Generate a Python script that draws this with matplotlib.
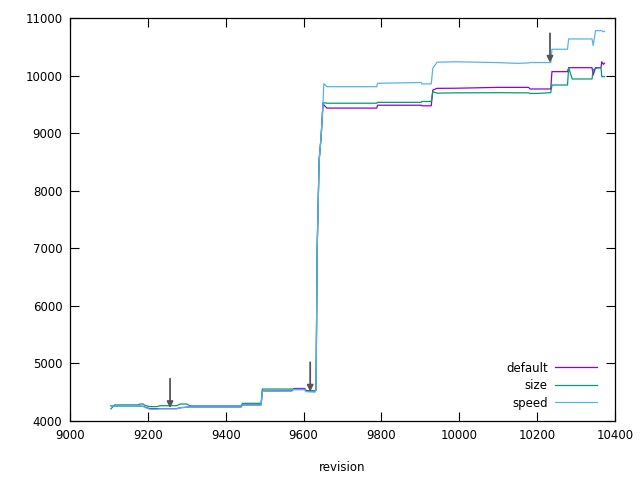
import matplotlib
matplotlib.use("Agg")
import matplotlib.pyplot as plt

revisions = [9105, 9115, 9175, 9180, 9188, 9193, 9205, 9223, 9231, 9274, 9283, 9300, 9308, 9312,
             9440, 9443, 9491, 9494, 9570, 9575, 9603, 9606, 9629, 9632, 9635, 9640, 9645, 9650,
             9652, 9660, 9788, 9790, 9902, 9904, 9928, 9932, 9943, 9990, 10100, 10150, 10178,
             10182, 10200, 10235, 10238, 10278, 10281, 10290, 10341, 10344, 10350, 10360, 10364,
             10366, 10370, 10373]

default = [4265, 4255, 4255, 4258, 4255, 4240, 4215, 4215, 4215, 4215, 4230, 4240, 4245, 4245,
           4245, 4280, 4280, 4520, 4525, 4565, 4565, 4530, 4520, 4540, 7020, 8530, 8930, 9525,
           9490, 9435, 9435, 9485, 9485, 9475, 9475, 9749, 9778, 9780, 9795, 9795, 9795,
           9767, 9767, 9767, 10068, 10068, 10137, 10137, 10137, 10010, 10137, 10137, 10137,
           10241, 10195, 10215]

size = [4210, 4280, 4280, 4295, 4295, 4270, 4250, 4250, 4266, 4266, 4295, 4295, 4265, 4262,
        4262, 4307, 4307, 4555, 4555, 4545, 4545, 4520, 4520, 4540, 7020, 8530, 8930, 9525,
        9530, 9520, 9520, 9535, 9535, 9550, 9550, 9720, 9695, 9700, 9703, 9700, 9700,
        9690, 9690, 9703, 9836, 9836, 10137, 9941, 9941, 10100, 10125, 10137, 10137,
        9981, 9981, 9981]

speed = [4265, 4255, 4255, 4258, 4255, 4235, 4205, 4205, 4212, 4212, 4230, 4240, 4243, 4243,
         4243, 4278, 4278, 4515, 4520, 4550, 4550, 4510, 4500, 4540, 7020, 8530, 8930, 9525,
         9860, 9807, 9807, 9866, 9880, 9855, 9855, 10128, 10232, 10240, 10225, 10212, 10220,
         10226, 10226, 10226, 10457, 10457, 10636, 10636, 10636, 10520, 10780, 10780, 10780,
         10780, 10760, 10770]

series_names = ["default", "size", "speed"]
series_colors = ["#9400d3", "#009e73", "#56b4e9"]

arrow_revs = [9257, 9617, 10233]
arrow_vals = [4225, 4510, 10224]
arrow_len = 510

xticks = [9000, 9200, 9400, 9600, 9800, 10000, 10200, 10400]
yticks = [4000, 5000, 6000, 7000, 8000, 9000, 10000, 11000]

plt.rcParams['font.family'] = ['DejaVu Sans']
fig = plt.figure(figsize=(6.4, 4.8), dpi=100)
ax = fig.add_axes([70/640, 1 - 421/480, 545/640, 403/480])

for name, vals, col in zip(series_names, [default, size, speed], series_colors):
    ax.plot(revisions, vals, color=col, lw=0.9, label=name)

for r, v in zip(arrow_revs, arrow_vals):
    ax.annotate("", xy=(r, v), xytext=(r, v + arrow_len),
                arrowprops=dict(arrowstyle="-|>", color="#555555", lw=1.3,
                                mutation_scale=9, shrinkA=0, shrinkB=0))

ax.set_xlim(9000, 10400)
ax.set_ylim(4000, 11000)
ax.set_xticks(xticks)
ax.set_yticks(yticks)
ax.tick_params(direction="in", length=6.5, width=0.8, top=True, right=True,
               labelsize=8.5, pad=5.5, colors="black")
for s in ax.spines.values():
    s.set_linewidth(0.9)
ax.set_xlabel("revision", fontsize=8.5, labelpad=14)

leg = ax.legend(loc="lower right", bbox_to_anchor=(0.983, 0.008), frameon=False,
                markerfirst=False, fontsize=8.5, handlelength=3.6, handletextpad=0.6,
                labelspacing=0.38, borderaxespad=0.3)

fig.savefig("out.png", dpi=100)
